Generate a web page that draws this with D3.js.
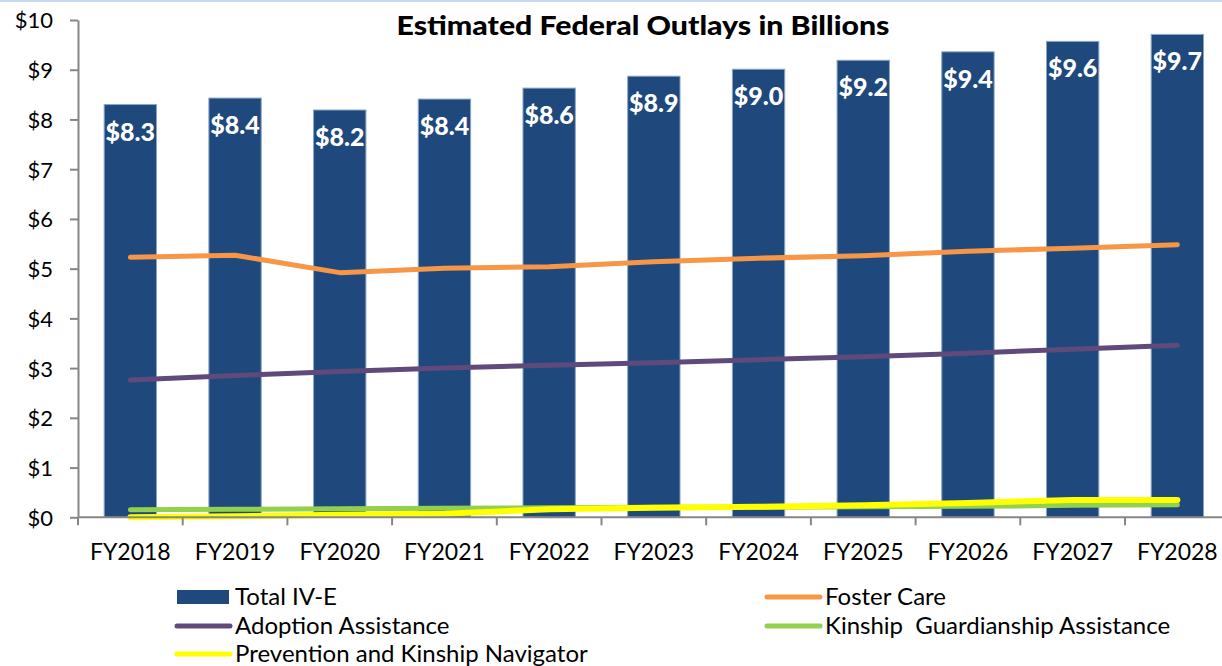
<!DOCTYPE html>
<meta charset="utf-8">
<script src="https://d3js.org/d3.v7.min.js"></script>
<style>
  body { margin: 0; background: #fff; }
  text { font-family: Lato, "Open Sans", sans-serif; }
</style>
<div id="chart"></div>
<script>
// data (billions of dollars)
var years = ["FY2018", "FY2019", "FY2020", "FY2021", "FY2022", "FY2023", "FY2024", "FY2025", "FY2026", "FY2027", "FY2028"];
var totalIVE   = [8.30, 8.43, 8.19, 8.41, 8.63, 8.87, 9.01, 9.19, 9.36, 9.57, 9.71];
var fosterCare = [5.23, 5.27, 4.92, 5.01, 5.04, 5.14, 5.21, 5.26, 5.35, 5.41, 5.48];
var adoption   = [2.76, 2.85, 2.93, 3.00, 3.06, 3.11, 3.17, 3.23, 3.30, 3.38, 3.46];
var kinship    = [0.15, 0.16, 0.17, 0.18, 0.19, 0.20, 0.20, 0.21, 0.22, 0.24, 0.25];
var prevention = [0.00, 0.02, 0.05, 0.07, 0.16, 0.19, 0.21, 0.24, 0.29, 0.35, 0.35];
var yTicks = [0, 1, 2, 3, 4, 5, 6, 7, 8, 9, 10];

var lineSeries = [
  {name: "Foster Care", values: fosterCare, color: "#F79646"},
  {name: "Adoption Assistance", values: adoption, color: "#604A7B"},
  {name: "Kinship  Guardianship Assistance", values: kinship, color: "#92D050"},
  {name: "Prevention and Kinship Navigator", values: prevention, color: "#FFFF00"}
];

var W = 1222, H = 666;
var m = {left: 78, right: 1229.7, top: 20, bottom: 517.3};
var axisColor = "#868686";

var svg = d3.select("#chart")
  .append("svg")
    .attr("width", W)
    .attr("height", H);

// thin light-blue frame edge at the very top
svg.append("rect")
    .attr("x", 0).attr("y", 0)
    .attr("width", W).attr("height", 2)
    .attr("fill", "#c6d9f1");

var x = d3.scaleBand()
    .domain(years)
    .range([m.left, m.right])
    .padding(0);

var y = d3.scaleLinear()
    .domain([0, 10])
    .range([m.bottom, m.top]);

// title
svg.append("text")
    .attr("x", 643)
    .attr("y", 35)
    .attr("text-anchor", "middle")
    .attr("font-size", 27)
    .attr("font-weight", 900)
    .attr("textLength", 493)
    .attr("lengthAdjust", "spacingAndGlyphs")
    .attr("fill", "#000")
    .text("Estimated Federal Outlays in Billions");

// bars
var bw = x.bandwidth() * 0.5;
svg.append("g")
  .selectAll("rect")
  .data(totalIVE)
  .join("rect")
    .attr("x", (d, i) => x(years[i]) + (x.bandwidth() - bw) / 2)
    .attr("y", d => y(d))
    .attr("width", bw)
    .attr("height", d => y(0) - y(d))
    .attr("fill", "#1F497D")
    .attr("stroke", "#8aa5c6")
    .attr("stroke-width", 1);

// bar value labels
svg.append("g")
    .attr("text-anchor", "middle")
  .selectAll("text")
  .data(totalIVE)
  .join("text")
    .attr("x", (d, i) => x(years[i]) + x.bandwidth() / 2)
    .attr("y", d => y(d) + 36)
    .attr("fill", "#fff")
    .attr("font-size", 25)
    .attr("font-weight", 900)
    .text(d => "$" + d.toFixed(1));

// lines
var line = d3.line()
    .x((d, i) => x(years[i]) + x.bandwidth() / 2)
    .y(d => y(d));

svg.append("g")
  .selectAll("path")
  .data(lineSeries)
  .join("path")
    .attr("d", d => line(d.values))
    .attr("fill", "none")
    .attr("stroke", d => d.color)
    .attr("stroke-width", d => d.name.startsWith("Prevention") ? 6 : 5)
    .attr("stroke-linecap", "round")
    .attr("stroke-linejoin", "round");

// y axis
var yAxis = svg.append("g")
    .attr("transform", `translate(${m.left},0)`)
    .call(d3.axisLeft(y).tickValues(yTicks).tickSize(8).tickSizeOuter(0).tickPadding(17)
      .tickFormat(d => "$" + d));
yAxis.select(".domain").attr("stroke", axisColor).attr("stroke-width", 2);
yAxis.selectAll(".tick line").attr("stroke", axisColor).attr("stroke-width", 2);
yAxis.selectAll(".tick text")
    .attr("font-size", 22)
    .attr("fill", "#000")
    .attr("dy", "0.36em");

// x axis
var xAxis = svg.append("g")
    .attr("transform", `translate(0,${m.bottom})`)
    .call(d3.axisBottom(x).tickSize(0).tickPadding(26));
xAxis.select(".domain").remove();
xAxis.selectAll(".tick text")
    .attr("font-size", 23)
    .attr("fill", "#000");
xAxis.append("line")
    .attr("x1", m.left).attr("x2", W)
    .attr("stroke", axisColor).attr("stroke-width", 2);
// category boundary ticks
xAxis.selectAll(".bound")
  .data(years)
  .join("line")
    .attr("class", "bound")
    .attr("x1", d => x(d)).attr("x2", d => x(d))
    .attr("y1", 0).attr("y2", 8)
    .attr("stroke", axisColor).attr("stroke-width", 2);

// legend
var legendItems = [
  {name: "Total IV-E", color: "#1F497D", bar: true, col: 0, row: 0},
  {name: lineSeries[0].name, color: lineSeries[0].color, col: 1, row: 0},
  {name: lineSeries[1].name, color: lineSeries[1].color, col: 0, row: 1},
  {name: lineSeries[2].name, color: lineSeries[2].color, col: 1, row: 1},
  {name: lineSeries[3].name, color: lineSeries[3].color, col: 0, row: 2}
];
var colX = [176, 766], rowY = [597, 626, 654];

var legend = svg.append("g")
  .selectAll("g")
  .data(legendItems)
  .join("g")
    .attr("transform", d => `translate(${colX[d.col]},${rowY[d.row]})`);

legend.filter(d => d.bar).append("rect")
    .attr("x", 1).attr("y", -7)
    .attr("width", 52).attr("height", 14)
    .attr("fill", d => d.color);

legend.filter(d => !d.bar).append("line")
    .attr("x1", 1).attr("x2", 54)
    .attr("stroke", d => d.color)
    .attr("stroke-width", 5)
    .attr("stroke-linecap", "round");

legend.append("text")
    .attr("x", 59)
    .attr("y", 8)
    .attr("font-size", 24)
    .attr("fill", "#000")
    .style("white-space", "pre")
    .text(d => d.name);
</script>
